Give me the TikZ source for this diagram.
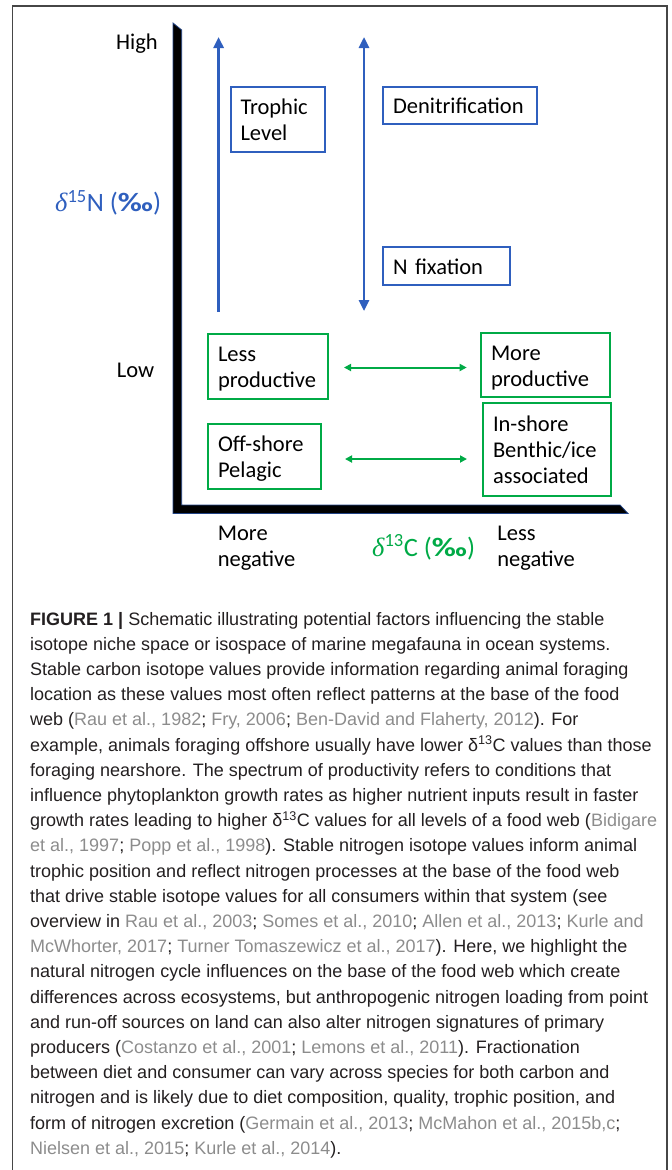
\documentclass[tikz,border=0pt]{standalone}
\usepackage{fontspec}
\setmainfont{Carlito}
\newfontfamily\capfont{Liberation Sans}
\newfontfamily\grkfont{Liberation Serif}
\usetikzlibrary{calc,arrows.meta}

\definecolor{figblue}{RGB}{47,95,190}
\definecolor{figgreen}{RGB}{0,170,70}
\definecolor{citegray}{RGB}{140,140,140}
\definecolor{captext}{RGB}{35,31,32}
\definecolor{framegray}{RGB}{70,70,70}

\newcommand\cit[1]{\textcolor{citegray}{#1}}
\newcommand\dlt{{\grkfont\itshape δ}}
\newcommand\pml{{\bfseries\scalebox{1.25}[1]{‰}}}
\newcommand\bxstrut{\rule[-4pt]{0pt}{24pt}}

\begin{document}
\begin{tikzpicture}[x=1pt,y=-1pt,
    bnode/.style={draw=figblue,line width=2pt,inner xsep=10pt,inner ysep=0pt,align=left,font=\fontsize{22.5}{26}\selectfont},
    gnode/.style={bnode,draw=figgreen},
    lbl/.style={inner sep=0pt,align=left,font=\fontsize{22.5}{26}\selectfont},
    axlbl/.style={inner sep=0pt,anchor=base west,font=\fontsize{26.5}{30}\selectfont},
    captxt/.style={inner sep=0pt,anchor=base west,text=captext,font=\capfont\fontsize{18}{25.2}\selectfont},
    barrow/.style={draw=figblue,line width=2.6pt,-{Triangle[length=11pt,width=10pt]}},
    bdarrow/.style={barrow,{Triangle[length=11pt,width=10pt]}-{Triangle[length=11pt,width=10pt]}},
    garrow/.style={draw=figgreen,line width=2pt,{Triangle[length=7pt,width=7pt]}-{Triangle[length=7pt,width=7pt]}}]

  \useasboundingbox (0,0) rectangle (672,1170);

  %% Frame round the figure and its caption
  \draw[framegray,line width=1.3pt] (12.7,1170) -- (12.7,6) -- (667,6) -- (667,1170);

  %% The two axes, as one L shape
  \draw[fill=black,draw=figblue!70!black,line width=.8pt]
    (173,23) -- (181.7,30) -- (181.7,505) -- (620,505) -- (628,513.5) -- (173,513.5) -- cycle;

  %% Axis labels
  \node[lbl,anchor=base west] (high) at (116,49) {High};
  \node[lbl,anchor=base west] (low) at (116.6,377.3) {Low};
  \node[axlbl,text=figblue] (nlab) at (55,211.7) {\dlt\textsuperscript{15}N (\pml)};
  \node[lbl,anchor=north west] (moreneg) at (217.7,520.7) {\bxstrut More\\\bxstrut negative};
  \node[lbl,anchor=north west] (lessneg) at (497.2,520.7) {\bxstrut Less\\\bxstrut negative};
  \node[axlbl,text=figgreen] (clab) at (372,556) {\dlt\textsuperscript{13}C (\pml)};

  %% Nitrogen boxes
  \node[bnode,text width=74pt,minimum height=65pt] (trophic) at (277.5,119.5) {\bxstrut Trophic\\\bxstrut Level};
  \node[bnode,text width=134pt,minimum height=37pt] (denit) at (460,105.5) {\bxstrut Denitrification};
  \node[bnode,text width=106.6pt,minimum height=38pt] (nfix) at (446.3,266) {\bxstrut N fixation};

  %% Carbon boxes
  \node[gnode,text width=100pt,minimum height=65pt] (lessprod) at (268,366.5) {\bxstrut Less\\\bxstrut productive};
  \node[gnode,text width=109pt,minimum height=64pt] (moreprod) at (545.5,365) {\bxstrut More\\\bxstrut productive};
  \node[gnode,text width=93pt,minimum height=65pt] (offshore) at (264.5,456.5) {\bxstrut Off-shore\\\bxstrut Pelagic};
  \node[gnode,text width=108pt,minimum height=93pt] (inshore) at (547,449.5) {\bxstrut In-shore\\\bxstrut Benthic/ice\\\bxstrut associated};

  %% Arrows
  \coordinate (tl-bot) at (218.6,312);
  \coordinate (tl-top) at (218.6,37);
  \coordinate (nc-top) at (364,37);
  \coordinate (nc-bot) at (364,311);
  \draw[barrow] (tl-bot) -- (tl-top);
  \draw[bdarrow] (nc-bot) -- (nc-top);
  \coordinate (prod-l) at (344,367.5);
  \coordinate (prod-r) at (466.7,367.5);
  \coordinate (shore-l) at (345,459);
  \coordinate (shore-r) at (467,459);
  \draw[garrow] (prod-l) -- (prod-r);
  \draw[garrow] (shore-l) -- (shore-r);

  %% Caption, line by line
  \foreach \ln [count=\i from 0] in {
    {{\bfseries FIGURE 1 |} Schematic illustrating potential factors influencing the stable},
    {isotope niche space or isospace of marine megafauna in ocean systems.},
    {Stable carbon isotope values provide information regarding animal foraging},
    {location as these values most often reflect patterns at the base of the food},
    {web (\cit{Rau et al., 1982}; \cit{Fry, 2006}; \cit{Ben-David and Flaherty, 2012}). For},
    {example, animals foraging offshore usually have lower δ\textsuperscript{13}C values than those},
    {foraging nearshore. The spectrum of productivity refers to conditions that},
    {influence phytoplankton growth rates as higher nutrient inputs result in faster},
    {growth rates leading to higher δ\textsuperscript{13}C values for all levels of a food web (\cit{Bidigare}},
    {\cit{et al., 1997}; \cit{Popp et al., 1998}). Stable nitrogen isotope values inform animal},
    {trophic position and reflect nitrogen processes at the base of the food web},
    {that drive stable isotope values for all consumers within that system (see},
    {overview in \cit{Rau et al., 2003}; \cit{Somes et al., 2010}; \cit{Allen et al., 2013}; \cit{Kurle and}},
    {\cit{McWhorter, 2017}; \cit{Turner Tomaszewicz et al., 2017}). Here, we highlight the},
    {natural nitrogen cycle influences on the base of the food web which create},
    {differences across ecosystems, but anthropogenic nitrogen loading from point},
    {and run-off sources on land can also alter nitrogen signatures of primary},
    {producers (\cit{Costanzo et al., 2001}; \cit{Lemons et al., 2011}). Fractionation},
    {between diet and consumer can vary across species for both carbon and},
    {nitrogen and is likely due to diet composition, quality, trophic position, and},
    {form of nitrogen excretion (\cit{Germain et al., 2013}; \cit{McMahon et al., 2015b,c};},
    {\cit{Nielsen et al., 2015}; \cit{Kurle et al., 2014}).}}{
    \node[captxt] (cap\i) at (30,{625+25.2*\i}) {\ln};
  }

\end{tikzpicture}
\end{document}
